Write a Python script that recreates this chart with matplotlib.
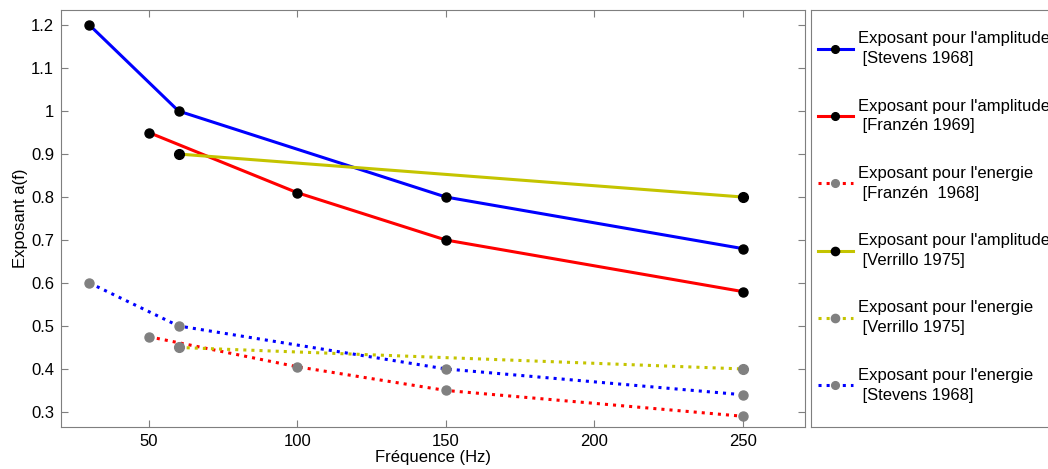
import matplotlib.pyplot as plt

plt.rcParams['font.family'] = ['Liberation Sans', 'DejaVu Sans']

# data
f_stevens = [30, 60, 150, 250]
a_stevens_amp = [1.2, 1.0, 0.8, 0.68]
a_stevens_en = [0.6, 0.5, 0.4, 0.34]

f_franzen = [50, 100, 150, 250]
a_franzen_amp = [0.95, 0.81, 0.70, 0.58]
a_franzen_en = [0.475, 0.405, 0.35, 0.29]

f_verrillo = [60, 250]
a_verrillo_amp = [0.9, 0.8]
a_verrillo_en = [0.45, 0.40]

labels = [
    "Exposant pour l'amplitude\n [Stevens 1968]",
    "Exposant pour l'amplitude\n [Franzén 1969]",
    "Exposant pour l'energie\n [Franzén  1968]",
    "Exposant pour l'amplitude\n [Verrillo 1975]",
    "Exposant pour l'energie\n [Verrillo 1975]",
    "Exposant pour l'energie\n [Stevens 1968]",
]

yel = '#c4c400'
grey = '#808080'
edge = '#7f7f7f'

fig = plt.figure(figsize=(10.48, 4.69), dpi=100)
ax = fig.add_axes([0.0582, 0.0896, 0.71, 0.889])

lines = []
lines += ax.plot(f_stevens, a_stevens_amp, color='blue', lw=2.2, marker='o', ms=6.5, mfc='black', mec='black')
lines += ax.plot(f_franzen, a_franzen_amp, color='red', lw=2.2, marker='o', ms=6.5, mfc='black', mec='black')
lines += ax.plot(f_franzen, a_franzen_en, color='red', lw=2.2, ls=':', marker='o', ms=6.5, mfc=grey, mec=grey)
lines += ax.plot(f_verrillo, a_verrillo_amp, color=yel, lw=2.2, marker='o', ms=7, mfc='black', mec='black')
lines += ax.plot(f_verrillo, a_verrillo_en, color=yel, lw=2.2, ls=':', marker='o', ms=7, mfc=grey, mec=grey)
lines += ax.plot(f_stevens, a_stevens_en, color='blue', lw=2.2, ls=':', marker='o', ms=6.5, mfc=grey, mec=grey)

ax.set_xlim(20.4, 271)
ax.set_ylim(0.265, 1.235)
ax.set_xticks([50, 100, 150, 200, 250])
ax.set_yticks([0.3, 0.4, 0.5, 0.6, 0.7, 0.8, 0.9, 1.0, 1.1, 1.2])
ax.set_yticklabels(['0.3', '0.4', '0.5', '0.6', '0.7', '0.8', '0.9', '1', '1.1', '1.2'])
ax.tick_params(direction='in', top=True, right=True, length=5, color=edge, labelsize=12, pad=5)
for s in ax.spines.values():
    s.set_color(edge)
ax.set_xlabel('Fréquence (Hz)', fontsize=12, labelpad=1)
ax.set_ylabel('Exposant a(f)', fontsize=12, labelpad=2)

# legend box on the right
lax = fig.add_axes([0.774, 0.0896, 0.3, 0.889])
lax.set_xticks([])
lax.set_yticks([])
for s in lax.spines.values():
    s.set_color(edge)
leg = lax.legend(lines, labels, loc='upper left', frameon=False, fontsize=12,
                 labelspacing=1.95, handlelength=2.1, handletextpad=0.3, markerscale=0.85,
                 borderaxespad=0.0, bbox_to_anchor=(0.0, 0.965))
for t in leg.get_texts():
    t.set_linespacing(1.4)

fig.savefig('out.png', dpi=100)
